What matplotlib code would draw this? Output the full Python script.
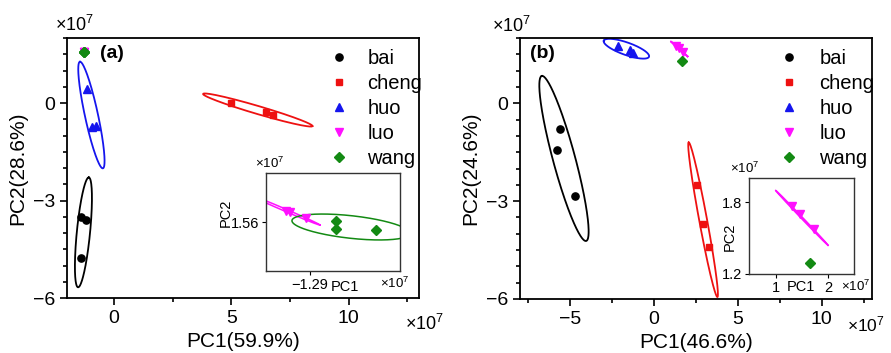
import numpy as np
import matplotlib
matplotlib.use('Agg')
from matplotlib import pyplot as plt

plt.rcParams['font.family'] = ['Liberation Sans', 'DejaVu Sans']
plt.rcParams['mathtext.fontset'] = 'custom'
plt.rcParams['mathtext.rm'] = 'Liberation Sans'

groups = ['bai', 'cheng', 'huo', 'luo', 'wang']
colors = {'bai': 'black', 'cheng': '#ee1111', 'huo': '#1515ee', 'luo': '#ff10ff', 'wang': '#138a13'}
markers = {'bai': 'o', 'cheng': 's', 'huo': '^', 'luo': 'v', 'wang': 'D'}
msizes = {'bai': 5.2, 'cheng': 5.0, 'huo': 5.8, 'luo': 5.8, 'wang': 5.0}

# panel (a) scores, x1e7
bai_a_x = [-1.40, -1.20, -1.41]
bai_a_y = [-3.50, -3.59, -4.76]
cheng_a_x = [5.0, 6.5, 6.8]
cheng_a_y = [0.0, -0.28, -0.37]
huo_a_x = [-1.14, -0.93, -0.76]
huo_a_y = [0.42, -0.74, -0.72]
luo_a_x = [-1.2924, -1.2920, -1.2904]
luo_a_y = [1.5611, 1.5610, 1.5604]
wang_a_x = [-1.2874, -1.2874, -1.2834]
wang_a_y = [1.5601, 1.5593, 1.5592]

# panel (b) scores, x1e7
bai_b_x = [-5.62, -5.80, -4.72]
bai_b_y = [-0.78, -1.42, -2.83]
cheng_b_x = [2.57, 2.93, 3.27]
cheng_b_y = [-2.49, -3.70, -4.42]
huo_b_x = [-2.15, -1.45, -1.26]
huo_b_y = [1.77, 1.64, 1.55]
luo_b_x = [1.32, 1.47, 1.73]
luo_b_y = [1.77, 1.70, 1.58]
wang_b_x = [1.65]
wang_b_y = [1.29]

# confidence ellipses: centre, end of major axis, minor/major ratio
ell_a = {'bai': ((-1.30, -3.98), (-1.07, -2.29), 0.12),
         'huo': ((-0.96, -0.37), (-1.45, 1.27), 0.12),
         'cheng': ((6.13, -0.215), (8.46, -0.71), 0.07)}
ell_a_inset = {'luo': ((-1.2925, 1.5612), (-1.2890, 1.5597), 0.03),
               'wang': ((-1.2859, 1.5595), (-1.2800, 1.55885), 0.19)}
ell_b = {'bai': ((-5.375, -1.69), (-6.70, 0.84), 0.13),
         'cheng': ((2.925, -3.57), (2.07, -1.20), 0.05),
         'huo': ((-1.65, 1.675), (-3.0, 1.92), 0.26),
         'luo': ((1.5, 1.67), (2.0, 1.44), 0.02)}

data_a = {'bai': (bai_a_x, bai_a_y), 'cheng': (cheng_a_x, cheng_a_y), 'huo': (huo_a_x, huo_a_y),
          'luo': (luo_a_x, luo_a_y), 'wang': (wang_a_x, wang_a_y)}
data_b = {'bai': (bai_b_x, bai_b_y), 'cheng': (cheng_b_x, cheng_b_y), 'huo': (huo_b_x, huo_b_y),
          'luo': (luo_b_x, luo_b_y), 'wang': (wang_b_x, wang_b_y)}

X7 = r'$\mathregular{\times10^7}$'


def draw_ellipse(ax, centre, end, ratio, color, lw=1.3):
    # built in screen space so the minor axis stays perpendicular
    t = np.linspace(0, 2 * np.pi, 300)
    c = ax.transData.transform(centre)
    e = ax.transData.transform(end)
    a = e - c
    b = np.array([-a[1], a[0]]) * ratio
    pts = c + np.outer(np.cos(t), a) + np.outer(np.sin(t), b)
    d = ax.transData.inverted().transform(pts)
    ax.plot(d[:, 0], d[:, 1], color=color, lw=lw, zorder=2)


def plot_points(ax, data, only=None):
    handles = []
    for g in groups:
        if only and g not in only:
            continue
        x, y = data[g]
        h, = ax.plot(x, y, ls='none', marker=markers[g], color=colors[g], ms=msizes[g],
                     mec=colors[g], zorder=3, label=g)
        handles.append(h)
    return handles


def style_main(ax, xlim):
    for s in ax.spines.values():
        s.set_linewidth(1.3)
    ax.tick_params(which='both', direction='out', top=False, right=False, labelsize=14, width=1.2)
    ax.tick_params(which='major', length=5)
    ax.tick_params(which='minor', length=3)
    ax.set_xlim(*xlim)
    ax.set_ylim(-6, 2)
    ax.set_yticks([-6, -3, 0])
    ax.set_yticks(np.arange(-6, 2.01, 0.5), minor=True)


def style_inset(ax):
    ax.tick_params(direction='out', length=3, labelsize=10.5, pad=2)
    for s in ax.spines.values():
        s.set_linewidth(1.0)
        s.set_color('#333333')


fig = plt.figure(figsize=(8.91, 3.53), dpi=100)

# ---------- panel (a)
axa = fig.add_axes([0.0752, 0.1558, 0.395, 0.7365])
style_main(axa, (-2, 13))
axa.set_xticks([0, 5, 10])
axa.set_xticks([2.5, 7.5, 12.5], minor=True)
for g, (c, e, r) in ell_a.items():
    draw_ellipse(axa, c, e, r, colors[g])
hands = plot_points(axa, data_a)
axa.set_xlabel('PC1(59.9%)', fontsize=15, labelpad=4)
axa.set_ylabel('PC2(28.6%)', fontsize=15, labelpad=4)
axa.text(0.128, 0.942, '(a)', transform=axa.transAxes, fontsize=14, fontweight='bold',
         ha='center', va='center')
axa.text(-0.034, 1.01, X7, transform=axa.transAxes, fontsize=13, ha='left', va='bottom')
axa.text(0.96, -0.06, X7, transform=axa.transAxes, fontsize=13, ha='left', va='top')
axa.legend(handles=hands, loc='upper left', bbox_to_anchor=(0.716, 0.998), frameon=False,
           fontsize=14.5, handlelength=1.0, handletextpad=0.9, labelspacing=0.3, borderpad=0)

# inset (a)
ia = fig.add_axes([0.2985, 0.2323, 0.1504, 0.2776])
ia.set_xlim(-1.2944, -1.2810)
ia.set_ylim(1.5551, 1.5649)
for g, (c, e, r) in ell_a_inset.items():
    draw_ellipse(ia, c, e, r, colors[g], lw=1.1)
plot_points(ia, data_a, only=['luo', 'wang'])
ia.set_xticks([-1.29])
ia.set_xticklabels(['\u22121.29'])
ia.set_yticks([1.56])
ia.set_yticklabels(['1.56'])
style_inset(ia)
ia.set_xlabel('PC1', fontsize=10.5)
ia.xaxis.set_label_coords(0.59, -0.09)
ia.set_ylabel('PC2', fontsize=10.5)
ia.yaxis.set_label_coords(-0.25, 0.59)
ia.text(-0.08, 1.02, X7, transform=ia.transAxes, fontsize=9.5, ha='left', va='bottom')
ia.text(0.85, -0.05, X7, transform=ia.transAxes, fontsize=9.5, ha='left', va='top')

# ---------- panel (b)
axb = fig.add_axes([0.5836, 0.153, 0.395, 0.739])
style_main(axb, (-8, 13))
axb.set_xticks([-5, 0, 5, 10])
axb.set_xticks([-7.5, -2.5, 2.5, 7.5, 12.5], minor=True)
for g, (c, e, r) in ell_b.items():
    draw_ellipse(axb, c, e, r, colors[g])
hands = plot_points(axb, data_b)
axb.set_xlabel('PC1(46.6%)', fontsize=15, labelpad=4)
axb.set_ylabel('PC2(24.6%)', fontsize=15, labelpad=4)
axb.text(0.065, 0.942, '(b)', transform=axb.transAxes, fontsize=14, fontweight='bold',
         ha='center', va='center')
axb.text(-0.08, 1.01, X7, transform=axb.transAxes, fontsize=13, ha='left', va='bottom')
axb.text(0.93, -0.06, X7, transform=axb.transAxes, fontsize=12.5, ha='left', va='top')
axb.legend(handles=hands, loc='upper left', bbox_to_anchor=(0.708, 0.998), frameon=False,
           fontsize=14.5, handlelength=1.0, handletextpad=1.0, labelspacing=0.3, borderpad=0)

# inset (b)
ib = fig.add_axes([0.841, 0.2238, 0.1178, 0.271])
ib.set_xlim(0.5, 2.5)
ib.set_ylim(1.2, 2.0)
draw_ellipse(ib, *ell_b['luo'], colors['luo'], lw=1.1)
plot_points(ib, data_b, only=['luo', 'wang'])
ib.set_xticks([1, 2])
ib.set_yticks([1.2, 1.8])
style_inset(ib)
ib.set_xlabel('PC1', fontsize=10.5)
ib.xaxis.set_label_coords(0.49, -0.06)
ib.set_ylabel('PC2', fontsize=10.5)
ib.yaxis.set_label_coords(-0.12, 0.39)
ib.text(-0.18, 1.02, X7, transform=ib.transAxes, fontsize=9.5, ha='left', va='bottom')
ib.text(0.87, -0.05, X7, transform=ib.transAxes, fontsize=9.5, ha='left', va='top')

fig.savefig('out.png', dpi=100)
